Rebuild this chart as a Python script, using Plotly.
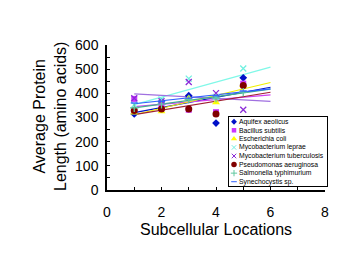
import numpy as np
import plotly.graph_objects as go

# ---- data ----
locations = [1, 2, 3, 4, 5]
species = [
    "Aquifex aeolicus",
    "Bacillus subtilis",
    "Escherichia coli",
    "Mycobacterium leprae",
    "Mycobacterium tuberculosis",
    "Pseudomonas aeruginosa",
    "Salmonella typhimurium",
    "Synechocystis sp.",
]
aquifex = [315, 365, 390, 277, 464]
bacillus = [377, 350, 332, 322, 440]
ecoli = [320, 325, 381, 362, 435]
mleprae = [353, 375, 461, 385, 503]
mtuberculosis = [380, 367, 447, 401, 332]
pseudomonas = [329, 335, 335, 314, 432]
salmonella = [340, 355, 375, 380, 405]
synechocystis = [360, 367, 380, 390, 410]
trend_x = [1, 6]
x_ticks = [0, 2, 4, 6, 8]
y_ticks = [0, 100, 200, 300, 400, 500, 600]

series_values = [aquifex, bacillus, ecoli, mleprae, mtuberculosis,
                 pseudomonas, salmonella, synechocystis]

# ---- styles ----
styles = [
    dict(symbol="diamond", color="#0010C8", size=6, line="#0010C8"),
    dict(symbol="square", color="#CC33FF", size=6, line="#D040F0"),
    dict(symbol="triangle-up", color="#FFFF00", size=7, line="#F0F000"),
    dict(symbol="x-thin-open", color="#70F0E0", size=6, line="#80F8E8"),
    dict(symbol="x-thin-open", color="#8A2BD8", size=6, line="#A070E0"),
    dict(symbol="circle", color="#800000", size=7, line="#A02030"),
    dict(symbol="cross-thin-open", color="#60C8A0", size=6, line="#40B090"),
    dict(symbol="line-ew-open", color="#3060FF", size=5, line="#3060FF"),
]

FONT = "Arial, Liberation Sans, sans-serif"
# the page body adds an 8px offset; the figure is sized so the plot lands where the reference has it
OFF = 8
W, H = 358 - OFF, 277 - OFF
PL, PR, PT, PB = 107 - OFF, 327 - OFF, 45 - OFF, 190 - OFF   # plot box in figure pixels
PW, PH = PR - PL, PB - PT

fig = go.Figure()

# trendlines first (below markers)
for name, vals, st in zip(species, series_values, styles):
    slope, icpt = np.polyfit(locations, vals, 1)
    ty = [slope * t + icpt for t in trend_x]
    fig.add_trace(go.Scatter(x=trend_x, y=ty, mode="lines",
                             line=dict(color=st["line"], width=1.2),
                             showlegend=False, hoverinfo="skip"))

for name, vals, st in zip(species, series_values, styles):
    open_sym = st["symbol"].endswith("open")
    fig.add_trace(go.Scatter(
        x=locations, y=vals, mode="markers", name=name, showlegend=False,
        marker=dict(symbol=st["symbol"], size=st["size"], color=st["color"],
                    line=dict(color=st["color"], width=1.3 if open_sym else 0)),
    ))

# custom compact legend drawn on an overlay axis pair
for i, (name, st) in enumerate(zip(species, styles)):
    open_sym = st["symbol"].endswith("open")
    fig.add_trace(go.Scatter(
        x=[5], y=[i], xaxis="x2", yaxis="y2", mode="markers", showlegend=False,
        hoverinfo="skip",
        marker=dict(symbol=st["symbol"], size=max(st["size"] - 1.5, 4), color=st["color"],
                    line=dict(color=st["color"], width=1 if open_sym else 0)),
    ))
    fig.add_annotation(x=8, y=i, xref="x2", yref="y2", text=name, showarrow=False,
                       xanchor="left", yanchor="middle",
                       font=dict(family=FONT, size=6.8, color="black"))


def px_x(p):
    return (p - OFF - PL) / PW


def px_y(p):
    return (PB - (p - OFF)) / PH


fig.update_layout(
    width=W, height=H,
    margin=dict(l=PL, r=W - PR, t=PT, b=H - PB, pad=0),
    paper_bgcolor="white", plot_bgcolor="white",
    font=dict(family=FONT, color="black"),
    xaxis=dict(domain=[0, px_x(325)], range=[0, 8], tickvals=x_ticks,
               ticks="inside", ticklen=3, tickwidth=1, tickcolor="black",
               minor=dict(dtick=1, ticks="inside", ticklen=3, tickcolor="black"),
               showline=True, linecolor="black", linewidth=1.5,
               showgrid=False, zeroline=False,
               tickfont=dict(family=FONT, size=14), ticklabelstandoff=8),
    yaxis=dict(range=[0, 600], tickvals=y_ticks,
               ticks="inside", ticklen=3, tickwidth=1, tickcolor="black",
               minor=dict(dtick=50, ticks="inside", ticklen=3, tickcolor="black"),
               showline=True, linecolor="black", linewidth=1.5,
               showgrid=False, zeroline=False,
               tickfont=dict(family=FONT, size=14), ticklabelstandoff=4),
    xaxis2=dict(domain=[px_x(229), 1], range=[0, 98], anchor="y2",
                showline=True, mirror=True, linecolor="black", linewidth=1,
                showticklabels=False, ticks="", showgrid=False, zeroline=False,
                fixedrange=True),
    yaxis2=dict(domain=[px_y(186), px_y(117)], range=[7.5, -0.55],
                anchor="x2", showline=True, mirror=True, linecolor="black", linewidth=1,
                showticklabels=False, ticks="", showgrid=False, zeroline=False,
                fixedrange=True),
    annotations=list(fig.layout.annotations) + [
        dict(text="Subcellular Locations", xref="paper", yref="paper",
             x=px_x(216), y=px_y(229.5), xanchor="center", yanchor="middle",
             showarrow=False, font=dict(family=FONT, size=16, color="black")),
        dict(text="Average Protein<br>Length (amino acids)", xref="paper", yref="paper",
             x=px_x(50), y=px_y(117), xanchor="center", yanchor="middle",
             textangle=-90, showarrow=False,
             font=dict(family=FONT, size=16, color="black")),
    ],
)

fig.write_html("out.html")
